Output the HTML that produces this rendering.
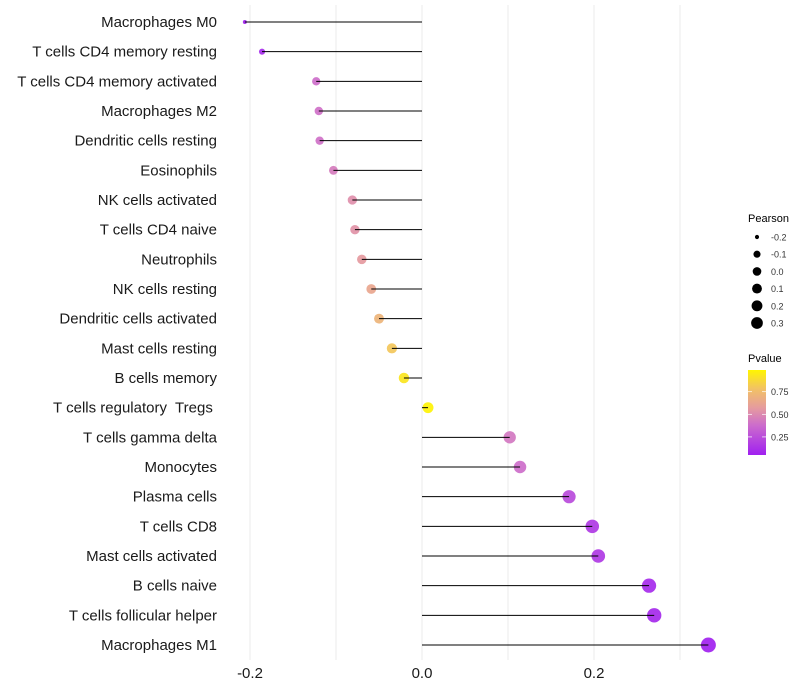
<!DOCTYPE html>
<html><head><meta charset="utf-8">
<style>
body{margin:0;background:#fff;}
svg{display:block;font-family:"Liberation Sans",Arial,sans-serif;}
</style></head>
<body>
<svg id="chart" width="800" height="700" viewBox="0 0 800 700">
<defs>
<linearGradient id="pg" x1="0" y1="1" x2="0" y2="0">
<stop offset="0" stop-color="#A020F0"/>
<stop offset="0.35" stop-color="#CC6CCC"/>
<stop offset="0.55" stop-color="#E59AA0"/>
<stop offset="0.78" stop-color="#F2C264"/>
<stop offset="1" stop-color="#FFF500"/>
</linearGradient>
</defs>
<g id="grid"></g>
<g id="marks"></g>
<g id="ylabels"></g>
<g id="xlabels"></g>
<g id="sizeLegend">
<text x="748" y="222" font-size="11">Pearson</text>
</g>
<g>
<text x="748" y="362" font-size="11">Pvalue</text>
<rect x="748" y="370" width="18" height="85" fill="url(#pg)"/>
<g id="pticks"></g>
</g>
</svg>
<script>
const categories = ["Macrophages M0","T cells CD4 memory resting","T cells CD4 memory activated","Macrophages M2","Dendritic cells resting","Eosinophils","NK cells activated","T cells CD4 naive","Neutrophils","NK cells resting","Dendritic cells activated","Mast cells resting","B cells memory","T cells regulatory  Tregs ","T cells gamma delta","Monocytes","Plasma cells","T cells CD8","Mast cells activated","B cells naive","T cells follicular helper","Macrophages M1"];
const pearson = [-0.206,-0.186,-0.123,-0.12,-0.119,-0.103,-0.081,-0.078,-0.07,-0.059,-0.05,-0.035,-0.021,0.007,0.102,0.114,0.171,0.198,0.205,0.264,0.27,0.333];
const pvalue = [0.01,0.05,0.36,0.37,0.37,0.42,0.5,0.52,0.55,0.62,0.7,0.8,0.93,0.99,0.4,0.36,0.2,0.12,0.12,0.05,0.04,0.01];
const xTicks = [-0.2,0,0.2];
const xTickLabels = ["-0.2","0.0","0.2"];
const gridTicks = [-0.2,-0.1,0,0.1,0.2,0.3];
const sizeLegendValues = [-0.2,-0.1,0.0,0.1,0.2,0.3];
const sizeLegendLabels = ["-0.2","-0.1","0.0","0.1","0.2","0.3"];
const pLegendValues = [0.75,0.5,0.25];
const pLegendLabels = ["0.75","0.50","0.25"];

const NS="http://www.w3.org/2000/svg";
const x = v => 422 + v*860;
const y = i => 22 + i*(623/(categories.length-1));
const r = v => 2 + 5.5*Math.sqrt(Math.max(0,(v+0.206)/0.539));
const stops=[[0,[160,32,240]],[0.35,[204,108,204]],[0.55,[229,154,160]],[0.78,[242,194,100]],[1,[255,245,0]]];
function col(p){for(let i=1;i<stops.length;i++){if(p<=stops[i][0]){const a=stops[i-1],b=stops[i];const t=(p-a[0])/(b[0]-a[0]);const c=a[1].map((v,k)=>Math.round(v+(b[1][k]-v)*t));return `rgb(${c})`;}}return "rgb(255,245,0)";}
function mk(tag,attrs,parent){const e=document.createElementNS(NS,tag);for(const k in attrs)e.setAttribute(k,attrs[k]);parent.appendChild(e);return e;}
const grid=document.getElementById('grid');
gridTicks.forEach(t=>{const l=mk('line',{x1:x(t),x2:x(t),y1:5,y2:660,stroke:'#ebebeb','stroke-width':1},grid);

});
const marks=document.getElementById('marks'), yl=document.getElementById('ylabels');
categories.forEach((c,i)=>{
 const g=mk('g',{},marks);
 
 
 const dot=mk('circle',{cx:x(pearson[i]),cy:y(i),r:r(pearson[i]),fill:col(pvalue[i]),'fill-opacity':0.92},g);
 
 
 const ln=mk('line',{x1:x(0),x2:x(pearson[i]),y1:y(i),y2:y(i),stroke:'#000','stroke-width':1},g);
 
 
 const t=mk('text',{x:217,y:y(i)+5,'text-anchor':'end','font-size':15,fill:'#1a1a1a','xml:space':'preserve'},yl);
 t.style.whiteSpace='pre';
 t.textContent=c;
 
 
});
const xl=document.getElementById('xlabels');
xTicks.forEach((t,i)=>{const e=mk('text',{x:x(t),y:678,'text-anchor':'middle','font-size':15,fill:'#1a1a1a'},xl);e.textContent=xTickLabels[i];

});
const sl=document.getElementById('sizeLegend');
sizeLegendValues.forEach((v,i)=>{const cy=237+i*17.2;
 const c=mk('circle',{cx:757,cy:cy,r:r(v)*0.8,fill:'#000'},sl);
 
 
 const t=mk('text',{x:771,y:cy+3.5,'font-size':9,fill:'#333'},sl);t.textContent=sizeLegendLabels[i];
 
 });
const pt=document.getElementById('pticks');
pLegendValues.forEach((v,i)=>{const yy=455-(v-0.05)/0.94*85;
 const l=mk('line',{x1:748,x2:752,y1:yy,y2:yy,stroke:'#fff','stroke-width':0.7},pt);
 
 
 const l2=mk('line',{x1:762,x2:766,y1:yy,y2:yy,stroke:'#fff','stroke-width':0.7},pt);
 
 
 const t=mk('text',{x:771,y:yy+3.5,'font-size':9,fill:'#333'},pt);t.textContent=pLegendLabels[i];
 
 });
</script>
</body></html>
